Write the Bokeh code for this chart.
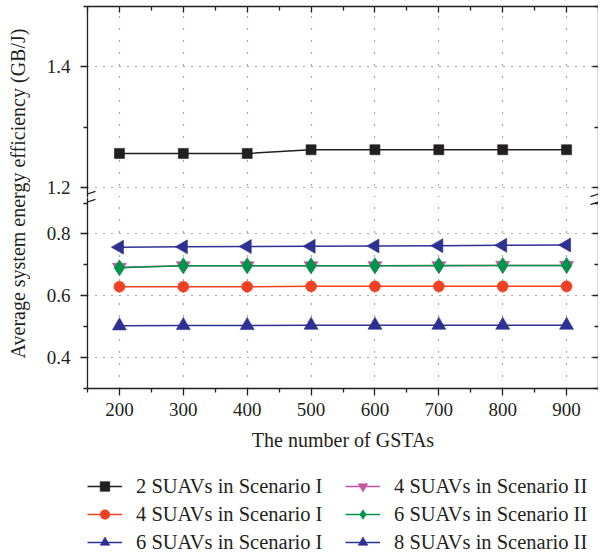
import numpy as np
from bokeh.plotting import figure
from bokeh.models import (Range1d, LinearAxis, FixedTicker, Legend, LegendItem,
                          Arrow, Grid, CustomJSTickFormatter, ColumnDataSource)
from bokeh.layouts import row, column
from bokeh.core.properties import value
from bokeh.embed import file_html
from bokeh.resources import INLINE

# ---- data -------------------------------------------------------------
gstas = [200, 300, 400, 500, 600, 700, 800, 900]
suav2_s1 = [1.257, 1.257, 1.257, 1.263, 1.263, 1.263, 1.263, 1.263]
suav4_s1 = [0.629, 0.629, 0.629, 0.630, 0.630, 0.630, 0.630, 0.630]
suav6_s1 = [0.502, 0.503, 0.503, 0.504, 0.504, 0.504, 0.504, 0.504]
suav4_s2 = [0.692, 0.697, 0.697, 0.697, 0.697, 0.697, 0.698, 0.698]
suav6_s2 = [0.690, 0.697, 0.697, 0.697, 0.697, 0.698, 0.698, 0.698]
suav8_s2 = [0.757, 0.758, 0.759, 0.760, 0.761, 0.762, 0.763, 0.764]

x_ticks = [200, 300, 400, 500, 600, 700, 800, 900]
upper_ticks = [1.2, 1.4]
lower_ticks = [0.4, 0.6, 0.8]

FONT = "Liberation Serif"
INK = "#231f20"
GRID = "#555555"
FRAME_W, FRAME_H = 511, 191

x_range = Range1d(150, 950)
x_ticker = FixedTicker(ticks=x_ticks, minor_ticks=[150, 250, 350, 450, 550, 650, 750, 850, 950])

series = [
    ("2 SUAVs in Scenario I", suav2_s1, "#231f20", "square", 10, 0.0),
    ("4 SUAVs in Scenario I", suav4_s1, "#ef4123", "circle", 11, 0.0),
    ("6 SUAVs in Scenario I", suav6_s1, "#2e3192", "triangle", 14, 0.0),
    ("4 SUAVs in Scenario II", suav4_s2, "#c2559f", "inverted_triangle", 14, 0.0),
    ("6 SUAVs in Scenario II", suav6_s2, "#00944a", "diamond", 16, 0.0),
    ("8 SUAVs in Scenario II", suav8_s2, "#2e3192", "triangle", 14, np.pi / 2),
]

blank = CustomJSTickFormatter(code="return ''")


def style_axis(ax, ticker, labels=True, tick_out=True):
    ax.ticker = ticker
    ax.axis_line_color = INK
    ax.axis_line_width = 1.3
    ax.major_tick_line_color = INK
    ax.minor_tick_line_color = INK
    ax.major_tick_line_width = 1.3
    ax.minor_tick_line_width = 1.3
    if tick_out:
        ax.major_tick_out, ax.major_tick_in = 7, 0
        ax.minor_tick_out, ax.minor_tick_in = 4, 0
    else:
        ax.major_tick_out, ax.major_tick_in = 0, 6
        ax.minor_tick_out, ax.minor_tick_in = 0, 4
    if labels:
        ax.major_label_text_font = FONT
        ax.major_label_text_font_size = "19px"
        ax.major_label_text_color = INK
    else:
        ax.formatter = blank
        ax.major_label_standoff = 0


def make_panel(y_range, y_ticker, top, **kw):
    p = figure(x_range=x_range, y_range=y_range, output_backend="svg",
               toolbar_location=None, x_axis_location=None, y_axis_location=None,
               outline_line_color=None, background_fill_color="white",
               border_fill_color="white", min_border_left=57, min_border_right=0,
               frame_width=FRAME_W, frame_height=FRAME_H, **kw)
    # replace the default grids with dotted ones on the fixed tick positions
    p.center = [r for r in p.center if not isinstance(r, Grid)]
    left = LinearAxis()
    style_axis(left, y_ticker)
    left.major_label_standoff = 10
    p.add_layout(left, "left")
    right = LinearAxis()
    style_axis(right, y_ticker, labels=False, tick_out=False)
    p.add_layout(right, "right")
    p.add_layout(Grid(dimension=0, ticker=x_ticker, grid_line_color=GRID,
                      grid_line_dash="1 11", grid_line_width=1.2))
    p.add_layout(Grid(dimension=1, ticker=y_ticker, grid_line_color=GRID,
                      grid_line_dash="1 7", grid_line_width=1.2))
    if top:
        ax = LinearAxis()
        style_axis(ax, x_ticker, labels=False, tick_out=False)
        p.add_layout(ax, "above")
    return p


upper_range = Range1d(1.184, 1.5)
lower_range = Range1d(0.299, 0.918)

upper = make_panel(upper_range, FixedTicker(ticks=upper_ticks, minor_ticks=[1.3, 1.5]),
                   top=True, min_border_top=6, min_border_bottom=0)
lower = make_panel(lower_range, FixedTicker(ticks=lower_ticks, minor_ticks=[0.3, 0.5, 0.7, 0.9]),
                   top=False, min_border_top=0, min_border_bottom=70)

bottom = LinearAxis(axis_label="The number of GSTAs")
style_axis(bottom, x_ticker)
bottom.major_label_standoff = 7
bottom.axis_label_text_font = FONT
bottom.axis_label_text_font_style = "normal"
bottom.axis_label_text_font_size = "20px"
bottom.axis_label_text_color = INK
bottom.axis_label_standoff = 10
lower.add_layout(bottom, "below")

for name, ys, color, marker, size, angle in series:
    for p in (upper, lower):
        p.line(gstas, ys, line_color=color, line_width=1.5)
        p.scatter(gstas, ys, marker=marker, size=size, angle=angle,
                  fill_color=color, line_color=color, line_width=0.6)

# legend strip: key glyphs share the series styling (a single NaN point each,
# so nothing is plotted but the key swatches are drawn)
key_fig = figure(width=570, height=96, x_range=(0, 1), y_range=(0, 1),
                 x_axis_type=None, y_axis_type=None, output_backend="svg",
                 toolbar_location=None, outline_line_color=None, min_border=0)
key_fig.grid.visible = False
items = []
for name, ys, color, marker, size, angle in series:
    src = ColumnDataSource(data=dict(x=[float("nan")], y=[float("nan")]))
    ln = key_fig.line("x", "y", source=src, line_color=color, line_width=1.5)
    sc = key_fig.scatter("x", "y", source=src, marker=marker, size=size, angle=angle,
                         fill_color=color, line_color=color, line_width=0.6)
    items.append(LegendItem(label=name, renderers=[ln, sc]))

for col, x0 in ((items[:3], 0), (items[3:], 258)):
    lg = Legend(items=col, location=(x0, 0),
                label_text_font=FONT, label_text_font_size="20.5px",
                label_text_color=INK, glyph_width=35, glyph_height=24,
                label_height=20, label_standoff=14, spacing=4, padding=0,
                margin=0, border_line_color=None, background_fill_alpha=0)
    key_fig.add_layout(lg, "center")

# axis-break marks on both spines
def break_mark(p, x, y, dx_px, dy_px):
    sx = (p.x_range.end - p.x_range.start) / FRAME_W
    sy = (p.y_range.end - p.y_range.start) / FRAME_H
    p.add_layout(Arrow(end=None, x_start=x - dx_px * sx, y_start=y - dy_px * sy,
                       x_end=x + dx_px * sx, y_end=y + dy_px * sy,
                       line_color=INK, line_width=1.3))

for xb in (x_range.start, x_range.end):
    break_mark(upper, xb, upper_range.start + 3.5 * (upper_range.end - upper_range.start) / FRAME_H, 8, 2.6)
    break_mark(lower, xb, lower_range.end - 4.5 * (lower_range.end - lower_range.start) / FRAME_H, 8, 2.6)

# shared y-axis title spanning both panels
title_fig = figure(width=30, height=554, x_range=(0, 30), y_range=(0, 554),
                   x_axis_type=None, y_axis_type=None, output_backend="svg",
                   toolbar_location=None, outline_line_color=None, min_border=0)
title_fig.grid.visible = False
title_fig.text(x=[17], y=[361], text=["Average system energy efficiency (GB/J)"],
               angle=np.pi / 2, text_align="center", text_baseline="middle",
               text_font=value(FONT), text_font_size="20px", text_color=INK)

layout = row(title_fig, column(upper, lower, key_fig, spacing=0), spacing=0)
open("out.html", "w").write(file_html(layout, INLINE))
